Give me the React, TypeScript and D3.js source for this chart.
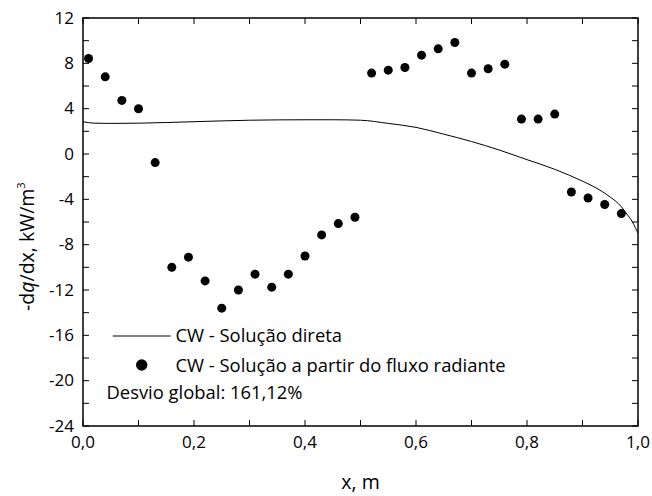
import React from "react";
import * as d3 from "d3";

const pointX = [0.01, 0.04, 0.07, 0.10, 0.13, 0.16, 0.19, 0.22, 0.25, 0.28, 0.31, 0.34, 0.37, 0.40, 0.43, 0.46, 0.49, 0.52, 0.55, 0.58, 0.61, 0.64, 0.67, 0.70, 0.73, 0.76, 0.79, 0.82, 0.85, 0.88, 0.91, 0.94, 0.97];
const pointY = [8.43, 6.81, 4.73, 3.99, -0.76, -10.0, -9.1, -11.2, -13.6, -12.0, -10.6, -11.75, -10.6, -9.0, -7.14, -6.14, -5.58, 7.14, 7.40, 7.63, 8.72, 9.28, 9.84, 7.14, 7.52, 7.93, 3.08, 3.08, 3.52, -3.35, -3.88, -4.46, -5.26];

const lineX = [0, 0.02, 0.05, 0.1, 0.2, 0.3, 0.4, 0.45, 0.5, 0.55, 0.6, 0.65, 0.7, 0.75, 0.8, 0.85, 0.9, 0.93, 0.95, 0.97, 0.98, 0.99, 1.0];
const lineY = [2.85, 2.72, 2.70, 2.72, 2.85, 2.98, 3.02, 3.02, 2.98, 2.70, 2.35, 1.75, 1.10, 0.35, -0.50, -1.35, -2.40, -3.15, -3.80, -4.65, -5.30, -6.00, -7.00];

const xTicks = [0, 0.2, 0.4, 0.6, 0.8, 1.0];
const xMinor = [0.1, 0.3, 0.5, 0.7, 0.9];
const yTicks = [12, 8, 4, 0, -4, -8, -12, -16, -20, -24];
const yMinor = [10, 6, 2, -2, -6, -10, -14, -18, -22];

const legendLine = "CW - Solução direta";
const legendDots = "CW - Solução a partir do fluxo radiante";
const note = "Desvio global: 161,12%";

const FONT = "'Open Sans', sans-serif";

export default function App() {
  const L = 83, R = 638, T = 18, B = 426;
  const x = d3.scaleLinear().domain([0, 1]).range([L, R]);
  const y = d3.scaleLinear().domain([-24, 12]).range([B, T]);
  const fmt = (v: number) => v.toFixed(1).replace(".", ",");
  const line = d3
    .line<number>()
    .x((_, i) => x(lineX[i]))
    .y((d) => y(d))
    .curve(d3.curveMonotoneX);
  const tk = 6;
  return (
    <svg width={652} height={496} style={{ position: "absolute", left: 0, top: 0, background: "#fff" }} fontFamily={FONT}>
      <rect x={0} y={0} width={652} height={496} fill="#fff" />
      <path d={line(lineY) || ""} fill="none" stroke="#000" strokeWidth={1} />
      {pointX.map((px, i) => (
        <circle key={i} cx={x(px)} cy={y(pointY[i])} r={4.5} fill="#000" />
      ))}
      <rect x={L} y={T} width={R - L} height={B - T} fill="none" stroke="#000" strokeWidth={1.5} />
      {[...xTicks, ...xMinor].map((t, i) => (
        <g key={"xt" + i}>
          <line x1={x(t)} x2={x(t)} y1={B} y2={B - tk} stroke="#000" strokeWidth={1} />
          <line x1={x(t)} x2={x(t)} y1={T} y2={T + tk} stroke="#000" strokeWidth={1} />
        </g>
      ))}
      {[...yTicks, ...yMinor].map((t, i) => (
        <g key={"yt" + i}>
          <line x1={L} x2={L + tk} y1={y(t)} y2={y(t)} stroke="#000" strokeWidth={1} />
          <line x1={R} x2={R - tk} y1={y(t)} y2={y(t)} stroke="#000" strokeWidth={1} />
        </g>
      ))}
      {xTicks.map((t, i) => (
        <text key={"xl" + i} x={x(t)} y={448} textAnchor="middle" fontSize={17} fill="#000">
          {fmt(t)}
        </text>
      ))}
      {yTicks.map((t, i) => (
        <text key={"yl" + i} x={74} y={y(t) + 5.5} textAnchor="end" fontSize={17} fill="#000">
          {t}
        </text>
      ))}
      <text x={360.5} y={489} textAnchor="middle" fontSize={19.5} fill="#000">x, m</text>
      <text transform={`translate(33.5,311) rotate(-90)`} textAnchor="start" fontSize={19.5} fill="#000">
        -d<tspan fontStyle="italic">q</tspan>/dx, kW/m<tspan dy={-9} fontSize={11}>3</tspan>
      </text>
      <line x1={112.7} x2={170.7} y1={336} y2={336} stroke="#000" strokeWidth={1} />
      <text x={175.5} y={341.7} fontSize={18.4} fill="#000">{legendLine}</text>
      <circle cx={141.7} cy={365} r={5.7} fill="#000" />
      <text x={175.5} y={371.7} fontSize={18.4} fill="#000">{legendDots}</text>
      <text x={106.5} y={399.3} fontSize={18.4} fill="#000">{note}</text>
    </svg>
  );
}
